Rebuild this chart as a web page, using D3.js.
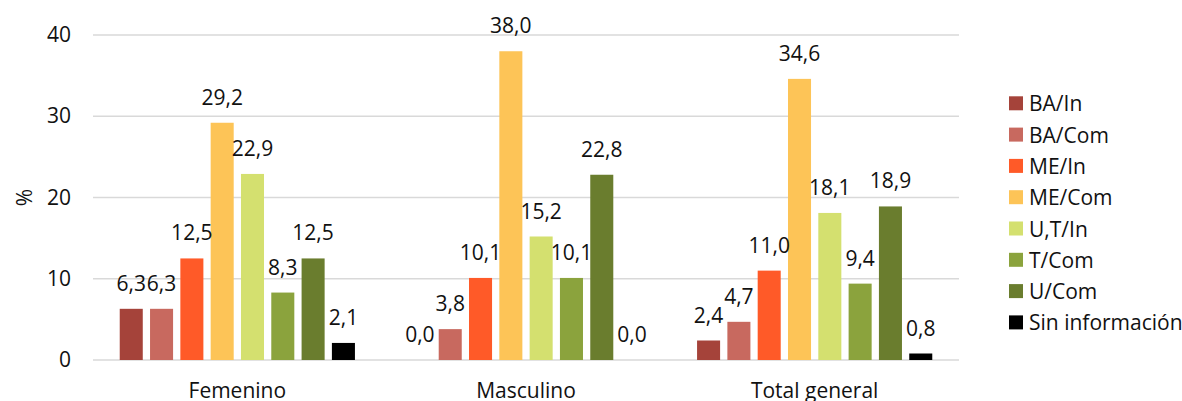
<!DOCTYPE html>
<html>
<head>
<meta charset="utf-8">
<script src="https://cdn.jsdelivr.net/npm/d3@7"></script>
<style>
  body { margin: 0; background: #fff; }
  text { font-family: "Open Sans", "Liberation Sans", sans-serif; fill: #111; }
</style>
</head>
<body>
<svg id="chart" width="1182" height="401"></svg>
<script>
var categories = ["Femenino", "Masculino", "Total general"];
var series = ["BA/In", "BA/Com", "ME/In", "ME/Com", "U,T/In", "T/Com", "U/Com", "Sin información"];
var colors = ["#a5433a", "#c8695f", "#ff5a28", "#fdc457", "#d4e06f", "#8ba33d", "#6a7d2e", "#000000"];
var femenino = [6.3, 6.3, 12.5, 29.2, 22.9, 8.3, 12.5, 2.1];
var masculino = [0.0, 3.8, 10.1, 38.0, 15.2, 10.1, 22.8, 0.0];
var totalGeneral = [2.4, 4.7, 11.0, 34.6, 18.1, 9.4, 18.9, 0.8];
var yTicks = [0, 10, 20, 30, 40];

var values = [femenino, masculino, totalGeneral];
var svg = d3.select('#chart');

var plotLeft = 93, plotRight = 959, plotTop = 35, plotBottom = 360;
var fontSize = '21px';

var x0 = d3.scaleBand()
  .domain(categories)
  .range([plotLeft, plotRight])
  .paddingInner(0.16)
  .paddingOuter(0.08);

var x1 = d3.scaleBand()
  .domain(series)
  .range([0, x0.bandwidth()])
  .paddingInner(0.24)
  .paddingOuter(0.12);

var y = d3.scaleLinear().domain([0, 40]).range([plotBottom, plotTop]);

// gridlines
svg.append('g')
  .selectAll('line')
  .data(yTicks)
  .enter().append('line')
  .attr('x1', plotLeft)
  .attr('x2', plotRight)
  .attr('y1', function(d) { return y(d); })
  .attr('y2', function(d) { return y(d); })
  .style('stroke', '#d9d9d9')
  .style('stroke-width', 1.5);

// y axis labels
var yAxis = d3.axisLeft(y).tickValues(yTicks).tickSize(0).tickPadding(22);
svg.append('g')
  .attr('transform', 'translate(' + plotLeft + ',0)')
  .call(yAxis)
  .call(function(g) { g.select('.domain').remove(); })
  .selectAll('text')
  .style('font-size', fontSize)
  .style('font-family', '"Open Sans", sans-serif')
  .attr('fill', '#111');

svg.append('text')
  .attr('transform', 'translate(32,' + y(20) + ') rotate(-90)')
  .attr('text-anchor', 'middle')
  .style('font-size', fontSize)
  .text('%');

// x axis labels
svg.append('g')
  .selectAll('text')
  .data(categories)
  .enter().append('text')
  .attr('x', function(d) { return x0(d) + x0.bandwidth() / 2; })
  .attr('y', 398)
  .attr('text-anchor', 'middle')
  .style('font-size', fontSize)
  .text(function(d) { return d; });

// bars
var groups = svg.append('g')
  .selectAll('g')
  .data(categories)
  .enter().append('g')
  .attr('transform', function(d) { return 'translate(' + x0(d) + ',0)'; });

groups.selectAll('rect')
  .data(function(d, i) { return values[i].map(function(v, j) { return { s: series[j], v: v, c: colors[j] }; }); })
  .enter().append('rect')
  .attr('x', function(d) { return x1(d.s); })
  .attr('y', function(d) { return y(d.v); })
  .attr('width', x1.bandwidth())
  .attr('height', function(d) { return plotBottom - y(d.v); })
  .style('fill', function(d) { return d.c; });

groups.selectAll('text')
  .data(function(d, i) { return values[i].map(function(v, j) { return { s: series[j], v: v }; }); })
  .enter().append('text')
  .attr('x', function(d) { return x1(d.s) + x1.bandwidth() / 2; })
  .attr('y', function(d) { return y(d.v) - 18; })
  .attr('text-anchor', 'middle')
  .style('font-size', fontSize)
  .text(function(d) { return d.v.toFixed(1).replace('.', ','); });

// legend
var legend = svg.append('g')
  .selectAll('g')
  .data(series)
  .enter().append('g')
  .attr('transform', function(d, i) { return 'translate(1009,' + (103.3 + i * 31.3) + ')'; });

legend.append('rect')
  .attr('x', 0)
  .attr('y', -7)
  .attr('width', 14)
  .attr('height', 14)
  .style('fill', function(d, i) { return colors[i]; });

legend.append('text')
  .attr('x', 20)
  .attr('y', 8)
  .style('font-size', fontSize)
  .text(function(d) { return d; });
</script>
</body>
</html>
